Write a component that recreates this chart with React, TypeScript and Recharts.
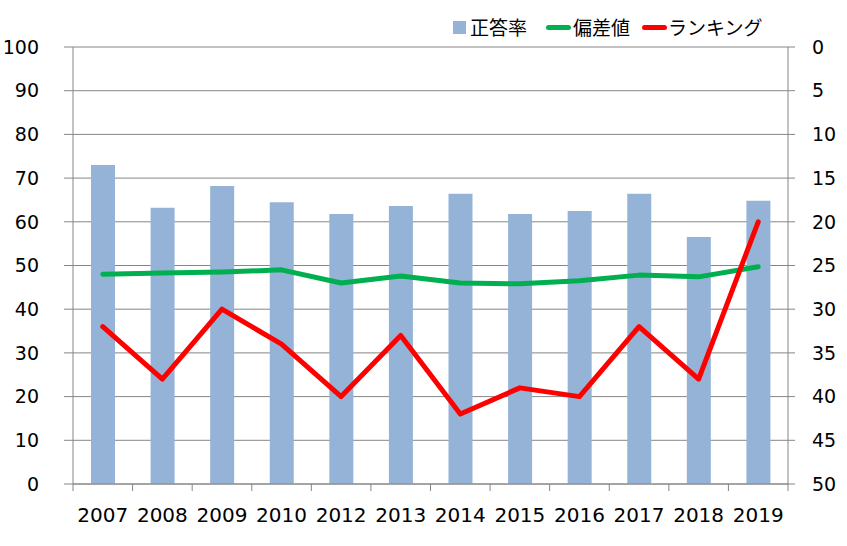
import React from "react";
import { ComposedChart, Bar, Line, XAxis, YAxis, CartesianGrid } from "recharts";

const years = ["2007", "2008", "2009", "2010", "2012", "2013", "2014", "2015", "2016", "2017", "2018", "2019"];
const correctRate = [73.0, 63.2, 68.2, 64.5, 61.8, 63.6, 66.4, 61.8, 62.5, 66.4, 56.5, 64.8];
const deviation = [48.0, 48.3, 48.5, 49.0, 46.0, 47.6, 46.0, 45.8, 46.5, 47.8, 47.4, 49.7];
const ranking = [32, 38, 30, 34, 40, 33, 42, 39, 40, 32, 38, 20];
const leftTicks = [0, 10, 20, 30, 40, 50, 60, 70, 80, 90, 100];
const rightTicks = [0, 5, 10, 15, 20, 25, 30, 35, 40, 45, 50];

const seriesNames = { bar: "正答率", dev: "偏差値", rank: "ランキング" };
const colors = { bar: "#95B3D7", dev: "#00B050", rank: "#FF0000", grid: "#868686", text: "#000000" };

const data = years.map((y, i) => ({
  year: y,
  rate: correctRate[i],
  dev: deviation[i],
  rank: ranking[i],
}));

const FONT = "'DejaVu Sans', Verdana, sans-serif";
const JFONT = "'Noto Sans CJK JP', 'DejaVu Sans', sans-serif";

const XTick = (props: any) => {
  const { x, y, payload, index, width, visibleTicksCount } = props;
  const band = width / visibleTicksCount;
  return (
    <g>
      <line x1={x - band / 2} y1={y} x2={x - band / 2} y2={y + 7} stroke={colors.grid} strokeWidth={1} />
      {index === visibleTicksCount - 1 && (
        <line x1={x + band / 2} y1={y} x2={x + band / 2} y2={y + 7} stroke={colors.grid} strokeWidth={1} />
      )}
      <text x={x} y={y + 31} dy="0.36em" textAnchor="middle" fill={colors.text} fontSize={20} fontFamily={FONT}>
        {payload.value}
      </text>
    </g>
  );
};

const LegendBox = () => (
  <div
    style={{
      position: "absolute",
      left: 453,
      top: 14,
      display: "flex",
      alignItems: "center",
      fontFamily: JFONT,
      fontSize: 19,
      lineHeight: "26px",
      color: colors.text,
      whiteSpace: "nowrap",
    }}
  >
    <span style={{ display: "inline-block", width: 13, height: 13, background: colors.bar, marginRight: 4 }} />
    <span style={{ marginRight: 19 }}>{seriesNames.bar}</span>
    <span style={{ display: "inline-block", width: 25, height: 5, borderRadius: 2.5, background: colors.dev, marginRight: 2 }} />
    <span style={{ marginRight: 12 }}>{seriesNames.dev}</span>
    <span style={{ display: "inline-block", width: 25, height: 5, borderRadius: 2.5, background: colors.rank, marginRight: 1 }} />
    <span>{seriesNames.rank}</span>
  </div>
);

export default function App() {
  return (
    <div style={{ position: "absolute", left: 0, top: 0, width: 847, height: 546, background: "#fff" }}>
      <ComposedChart
        width={847}
        height={546}
        data={data}
        margin={{ top: 47, right: 0, bottom: 0, left: 0 }}
      >
        <CartesianGrid yAxisId="left" vertical={false} stroke={colors.grid} strokeWidth={1} />
        <XAxis
          dataKey="year"
          type="category"
          tick={<XTick />}
          tickLine={false}
          tickSize={0}
          tickMargin={0}
          axisLine={{ stroke: colors.grid, strokeWidth: 1 }}
          height={62}
          interval={0}
        />
        <YAxis
          yAxisId="left"
          orientation="left"
          domain={[0, 100]}
          ticks={leftTicks}
          interval={0}
          width={73}
          tickSize={9}
          tickMargin={25}
          tickLine={{ stroke: colors.grid }}
          axisLine={{ stroke: colors.grid }}
          tick={{ fill: colors.text, fontSize: 19, fontFamily: FONT }}
        />
        <YAxis
          yAxisId="right"
          orientation="right"
          domain={[0, 50]}
          reversed
          ticks={rightTicks}
          interval={0}
          width={59}
          tickSize={7}
          tickMargin={17}
          tickLine={{ stroke: colors.grid }}
          axisLine={{ stroke: colors.grid }}
          tick={{ fill: colors.text, fontSize: 19, fontFamily: FONT, textAnchor: "start" }}
        />
        <Bar yAxisId="left" dataKey="rate" name={seriesNames.bar} fill={colors.bar} barSize={24} isAnimationActive={false} />
        <Line
          yAxisId="left"
          type="linear"
          dataKey="dev"
          name={seriesNames.dev}
          stroke={colors.dev}
          strokeWidth={5}
          strokeLinecap="round"
          strokeLinejoin="round"
          dot={false}
          activeDot={false}
          isAnimationActive={false}
        />
        <Line
          yAxisId="right"
          type="linear"
          dataKey="rank"
          name={seriesNames.rank}
          stroke={colors.rank}
          strokeWidth={5}
          strokeLinecap="round"
          strokeLinejoin="round"
          dot={false}
          activeDot={false}
          isAnimationActive={false}
        />
      </ComposedChart>
      <LegendBox />
    </div>
  );
}
